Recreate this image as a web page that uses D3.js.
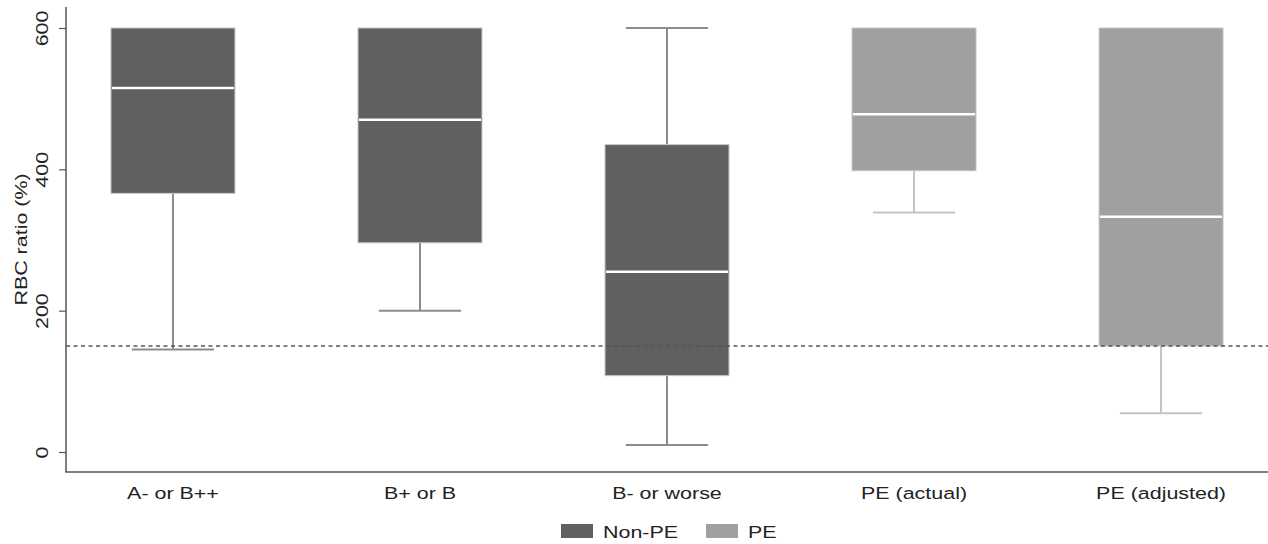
<!DOCTYPE html>
<html>
<head>
<meta charset="utf-8">
<script src="https://cdn.jsdelivr.net/npm/d3@7"></script>
<style>
  html, body { margin: 0; padding: 0; background: #fff; }
  svg { display: block; font-family: "Liberation Sans", Arial, sans-serif; }
</style>
</head>
<body>
<svg id="chart" width="1268" height="544"></svg>
<script>
// Box-plot summaries of RBC ratio (%) by rating group
const categories = ["A- or B++", "B+ or B", "B- or worse", "PE (actual)", "PE (adjusted)"];
const groups     = ["Non-PE", "Non-PE", "Non-PE", "PE", "PE"];
const whiskerLow = [145, 200, 10, 339, 55];
const q1         = [366, 296, 108, 398, 150];
const medians    = [515, 470, 255, 478, 333];
const q3         = [600, 600, 435, 600, 600];
const whiskerHigh= [600, 600, 600, 600, 600];
const yTicks     = [0, 200, 400, 600];
const threshold  = 150;
const legendKeys = ["Non-PE", "PE"];

const fills    = { "Non-PE": "#606060", "PE": "#a0a0a0" };
const whiskers = { "Non-PE": "#8c8c8c", "PE": "#c4c4c4" };

// wide-set lettering: glyphs stretched along the reading direction
const FONT = 16.5, STRETCH = 1.3, TEXT_COL = "#222";

const svg = d3.select("#chart");
const plotLeft = 66, plotRight = 1268, plotTop = 7, plotBottom = 472;

const x = d3.scalePoint().domain(categories).range([plotLeft, plotRight]).padding(0.433);
const boxW = x.step() * 0.502;
const capW = x.step() * 0.333;
const y = d3.scaleLinear().domain([-28.3, 629.7]).range([plotBottom, plotTop]);

const data = categories.map((c, i) => ({
  cat: c, group: groups[i], lo: whiskerLow[i], q1: q1[i], med: medians[i], q3: q3[i], hi: whiskerHigh[i]
}));

const g = svg.append("g");

// whiskers
data.forEach(d => {
  const cx = x(d.cat);
  const col = whiskers[d.group];
  if (d.lo < d.q1) {
    g.append("line").attr("x1", cx).attr("x2", cx).attr("y1", y(d.q1)).attr("y2", y(d.lo))
      .attr("stroke", col).attr("stroke-width", 2);
    g.append("line").attr("x1", cx - capW / 2).attr("x2", cx + capW / 2).attr("y1", y(d.lo)).attr("y2", y(d.lo))
      .attr("stroke", col).attr("stroke-width", 2);
  }
  if (d.hi > d.q3) {
    g.append("line").attr("x1", cx).attr("x2", cx).attr("y1", y(d.q3)).attr("y2", y(d.hi))
      .attr("stroke", col).attr("stroke-width", 2);
    g.append("line").attr("x1", cx - capW / 2).attr("x2", cx + capW / 2).attr("y1", y(d.hi)).attr("y2", y(d.hi))
      .attr("stroke", col).attr("stroke-width", 2);
  }
});

// boxes
g.selectAll("rect.box").data(data).join("rect")
  .attr("class", "box")
  .attr("x", d => x(d.cat) - boxW / 2)
  .attr("width", boxW)
  .attr("y", d => y(d.q3))
  .attr("height", d => y(d.q1) - y(d.q3))
  .attr("fill", d => fills[d.group])
  .attr("stroke", "#c8c8c8")
  .attr("stroke-width", 1);

// medians
g.selectAll("line.med").data(data).join("line")
  .attr("class", "med")
  .attr("x1", d => x(d.cat) - boxW / 2 + 1)
  .attr("x2", d => x(d.cat) + boxW / 2 - 1)
  .attr("y1", d => y(d.med)).attr("y2", d => y(d.med))
  .attr("stroke", "#ffffff").attr("stroke-width", 2.5);

// reference threshold
svg.append("line")
  .attr("x1", plotLeft).attr("x2", plotRight)
  .attr("y1", y(threshold)).attr("y2", y(threshold))
  .attr("stroke", "#555").attr("stroke-width", 1.5).attr("stroke-dasharray", "4,3.5");

// y axis
const yAxis = svg.append("g").attr("transform", `translate(${plotLeft},0)`)
  .call(d3.axisLeft(y).tickValues(yTicks).tickSize(7).tickPadding(5).tickFormat(d3.format("d")));
yAxis.select(".domain").remove();
yAxis.selectAll(".tick line").attr("stroke", "#555").attr("stroke-width", 1.2);
yAxis.selectAll(".tick text")
  .attr("transform", `translate(-18,0) rotate(-90) scale(${STRETCH},1)`)
  .attr("x", 0).attr("y", 0)
  .attr("dy", 0)
  .attr("text-anchor", "middle")
  .attr("font-size", FONT).attr("fill", TEXT_COL)
  .attr("font-family", "Liberation Sans, Arial, sans-serif");

// axis lines
svg.append("line").attr("x1", plotLeft).attr("x2", plotLeft).attr("y1", plotTop).attr("y2", plotBottom)
  .attr("stroke", "#555").attr("stroke-width", 1.5);
svg.append("line").attr("x1", plotLeft - 0.75).attr("x2", plotRight).attr("y1", plotBottom).attr("y2", plotBottom)
  .attr("stroke", "#555").attr("stroke-width", 1.5);

// y title
svg.append("text")
  .attr("transform", `translate(27,${(plotTop + plotBottom) / 2}) rotate(-90) scale(${STRETCH},1)`)
  .attr("text-anchor", "middle")
  .attr("font-size", FONT).attr("fill", TEXT_COL)
  .text("RBC ratio (%)");

// x labels
svg.selectAll("text.xl").data(categories).join("text")
  .attr("class", "xl")
  .attr("transform", d => `translate(${x(d)},499) scale(${STRETCH},1)`)
  .attr("text-anchor", "middle")
  .attr("font-size", FONT).attr("fill", TEXT_COL)
  .text(d => d);

// legend
const legendX = [561, 706];
legendKeys.forEach((k, i) => {
  svg.append("rect").attr("x", legendX[i]).attr("y", 524).attr("width", 32).attr("height", 14)
    .attr("fill", fills[k]);
  svg.append("text")
    .attr("transform", `translate(${legendX[i] + 42},538) scale(${STRETCH},1)`)
    .attr("font-size", FONT).attr("fill", TEXT_COL).text(k);
});
</script>
</body>
</html>
